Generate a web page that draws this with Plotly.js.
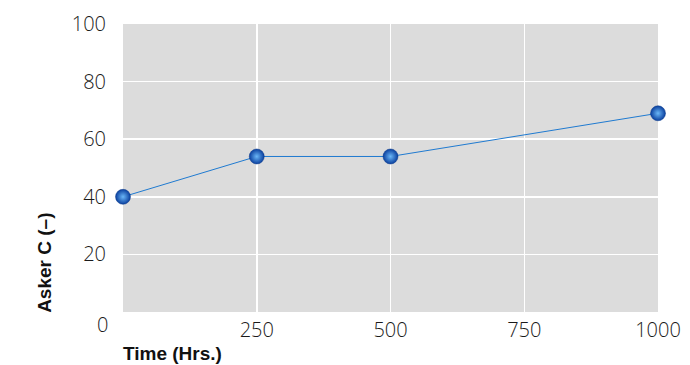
<!DOCTYPE html>
<html>
<head>
<meta charset="utf-8">
<script src="https://cdn.plot.ly/plotly-3.0.1.min.js"></script>
<style>html,body{margin:0;padding:0;background:#fff;}#chart{width:690px;height:365px;}</style>
</head>
<body>
<div id="chart"></div>
<script>
const timeHrs = [0, 250, 500, 1000];
const askerC = [40, 54, 54, 69];
const xTickVals = [250, 500, 750, 1000];
const yTickVals = [20, 40, 60, 80, 100];
const xTitle = 'Time (Hrs.)';
const yTitle = 'Asker C (\u2013)';

const tickFont = {family: 'Open Sans, Noto Sans, sans-serif', size: 20, color: '#1a1a1a', weight: 300};
const titleFont = {family: 'Liberation Sans, Arial, sans-serif', size: 19, color: '#111', weight: 700};

const trace = {
  x: timeHrs, y: askerC, type: 'scatter', mode: 'lines+markers',
  line: {color: '#1f7ad0', width: 1},
  marker: {size: 15, color: '#0a3f9e', gradient: {type: 'radial', color: '#6ab6f7'}, line: {width: 0.5, color: '#0a3a8a'}},
  cliponaxis: false, hoverinfo: 'none'
};

const layout = {
  width: 690, height: 365,
  margin: {l: 123, r: 32, t: 24, b: 53},
  paper_bgcolor: '#fff', plot_bgcolor: '#dcdcdc',
  showlegend: false,
  xaxis: {range: [0, 1000], tickvals: xTickVals, ticktext: xTickVals.map(String), tickfont: tickFont,
    showgrid: true, gridcolor: '#fff', gridwidth: 1.5, zeroline: false, showline: false, ticks: '', ticklabelstandoff: 4, fixedrange: true},
  yaxis: {range: [0, 100], tickvals: yTickVals, ticktext: yTickVals.map(String), tickfont: tickFont,
    showgrid: true, gridcolor: '#fff', gridwidth: 1.5, zeroline: false, showline: false, ticks: '', ticklabelstandoff: 16, fixedrange: true},
  annotations: [
    {text: '0', xref: 'paper', yref: 'paper', x: -0.025, y: -0.045, xanchor: 'right', yanchor: 'middle', showarrow: false, font: tickFont},
    {text: xTitle, xref: 'paper', yref: 'paper', x: -0.004, y: -0.145, xanchor: 'left', yanchor: 'middle', showarrow: false, font: titleFont},
    {text: yTitle, xref: 'paper', yref: 'paper', x: -0.148, y: 0.17, xanchor: 'center', yanchor: 'middle', textangle: -90, showarrow: false, font: titleFont}
  ]
};
Plotly.newPlot('chart', [trace], layout, {displayModeBar: false, staticPlot: true});
</script>
</body>
</html>
